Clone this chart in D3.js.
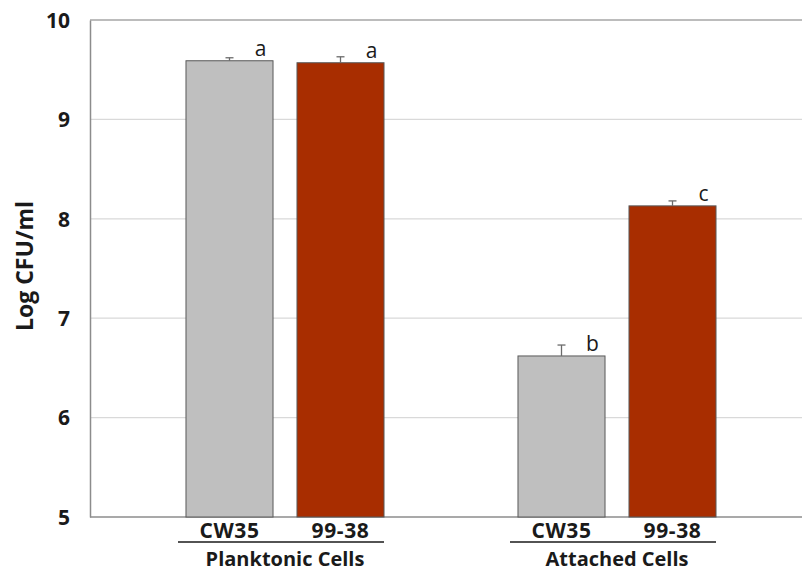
<!DOCTYPE html>
<html>
<head>
<meta charset="utf-8">
<script src="https://cdn.jsdelivr.net/npm/d3@7"></script>
<style>
  body { margin: 0; background: #fff; }
  svg text { font-family: "Open Sans", "DejaVu Sans", sans-serif; fill: #1a1a1a; }
</style>
</head>
<body>
<div id="chart"></div>
<script>
// data
const groups = ["Planktonic Cells", "Attached Cells"];
const strains = ["CW35", "99-38"];
const means = [[9.59, 9.57], [6.62, 8.13]];
const errors = [[0.03, 0.06], [0.11, 0.05]];
const letters = [["a", "a"], ["b", "c"]];
const yTicks = [5, 6, 7, 8, 9, 10];

const colors = { "CW35": "#bfbfbf", "99-38": "#a82d00" };

const width = 802, height = 572;
const margin = { top: 20, right: 0, bottom: 55, left: 90 };

const svg = d3.select("#chart").append("svg")
  .attr("width", width)
  .attr("height", height);

// scales
const yScale = d3.scaleLinear().domain([5, 10]).range([height - margin.bottom, margin.top]);
const xGroup = d3.scaleBand().domain(groups).range([119, 783]);
const xStrain = d3.scaleBand().domain(strains)
  .range([55, 277])
  .paddingInner(0.216)
  .paddingOuter(0.108);

// gridlines
svg.append("g")
  .selectAll("line")
  .data(yTicks.filter(d => d > 5))
  .join("line")
  .attr("x1", margin.left)
  .attr("x2", width)
  .attr("y1", d => yScale(d))
  .attr("y2", d => yScale(d))
  .attr("stroke", d => d === 10 ? "#a6a6a6" : "#d9d9d9")
  .attr("stroke-width", d => d === 10 ? 1.5 : 1.2);

// y axis
const yAxis = d3.axisLeft(yScale)
  .tickValues(yTicks)
  .tickFormat(d3.format("d"))
  .tickSize(0)
  .tickPadding(20);
const gy = svg.append("g")
  .attr("transform", `translate(${margin.left},0)`)
  .call(yAxis);
gy.select(".domain").attr("stroke", "#8c8c8c").attr("stroke-width", 1.5);
gy.selectAll("text")
  .style("font-size", "21px")
  .style("font-weight", "700")
  .attr("dy", "0.35em");

// x axis line
svg.append("line")
  .attr("x1", margin.left)
  .attr("x2", width)
  .attr("y1", yScale(5))
  .attr("y2", yScale(5))
  .attr("stroke", "#8c8c8c")
  .attr("stroke-width", 1.5);

// y title
svg.append("text")
  .attr("transform", `translate(33,266) rotate(-90)`)
  .attr("text-anchor", "middle")
  .style("font-size", "23px")
  .style("font-weight", "700")
  .text("Log CFU/ml");

// bars
const rows = [];
groups.forEach((g, i) => {
  strains.forEach((s, j) => {
    rows.push({ group: g, strain: s, value: means[i][j], err: errors[i][j], letter: letters[i][j] });
  });
});

const bx = d => xGroup(d.group) + xStrain(d.strain);
const bw = xStrain.bandwidth();

svg.append("g")
  .selectAll("rect")
  .data(rows)
  .join("rect")
  .attr("x", bx)
  .attr("y", d => yScale(d.value))
  .attr("width", bw)
  .attr("height", d => yScale(5) - yScale(d.value))
  .attr("fill", d => colors[d.strain])
  .attr("stroke", "#595959")
  .attr("stroke-width", 1);

// error bars (upper only)
const eb = svg.append("g").attr("stroke", "#6b6b6b").attr("stroke-width", 1.3);
eb.selectAll(".ev")
  .data(rows)
  .join("line")
  .attr("x1", d => bx(d) + bw / 2)
  .attr("x2", d => bx(d) + bw / 2)
  .attr("y1", d => yScale(d.value))
  .attr("y2", d => yScale(d.value + d.err));
eb.selectAll(".ec")
  .data(rows)
  .join("line")
  .attr("x1", d => bx(d) + bw / 2 - 4)
  .attr("x2", d => bx(d) + bw / 2 + 4)
  .attr("y1", d => yScale(d.value + d.err))
  .attr("y2", d => yScale(d.value + d.err));

// significance letters
svg.append("g")
  .selectAll("text")
  .data(rows)
  .join("text")
  .attr("x", d => bx(d) + bw / 2 + 31)
  .attr("y", d => yScale(d.value) - 5)
  .attr("text-anchor", "middle")
  .style("font-size", "21px")
  .text(d => d.letter);

// strain labels
svg.append("g")
  .selectAll("text")
  .data(rows)
  .join("text")
  .attr("x", d => bx(d) + bw / 2)
  .attr("y", 538)
  .attr("text-anchor", "middle")
  .style("font-size", "21px")
  .style("font-weight", "700")
  .style("letter-spacing", "0.6px")
  .text(d => d.strain);

// group underline + label
groups.forEach(g => {
  const x0 = xGroup(g) + xStrain(strains[0]) - 8;
  const x1 = xGroup(g) + xStrain(strains[1]) + bw;
  svg.append("line")
    .attr("x1", x0).attr("x2", x1)
    .attr("y1", 542).attr("y2", 542)
    .attr("stroke", "#1a1a1a")
    .attr("stroke-width", 1.5);
  svg.append("text")
    .attr("x", xGroup(g) + xGroup.bandwidth() / 2)
    .attr("y", 566)
    .attr("text-anchor", "middle")
    .style("font-size", "20px")
    .style("font-weight", "700")
    .text(g);
});
</script>
</body>
</html>
